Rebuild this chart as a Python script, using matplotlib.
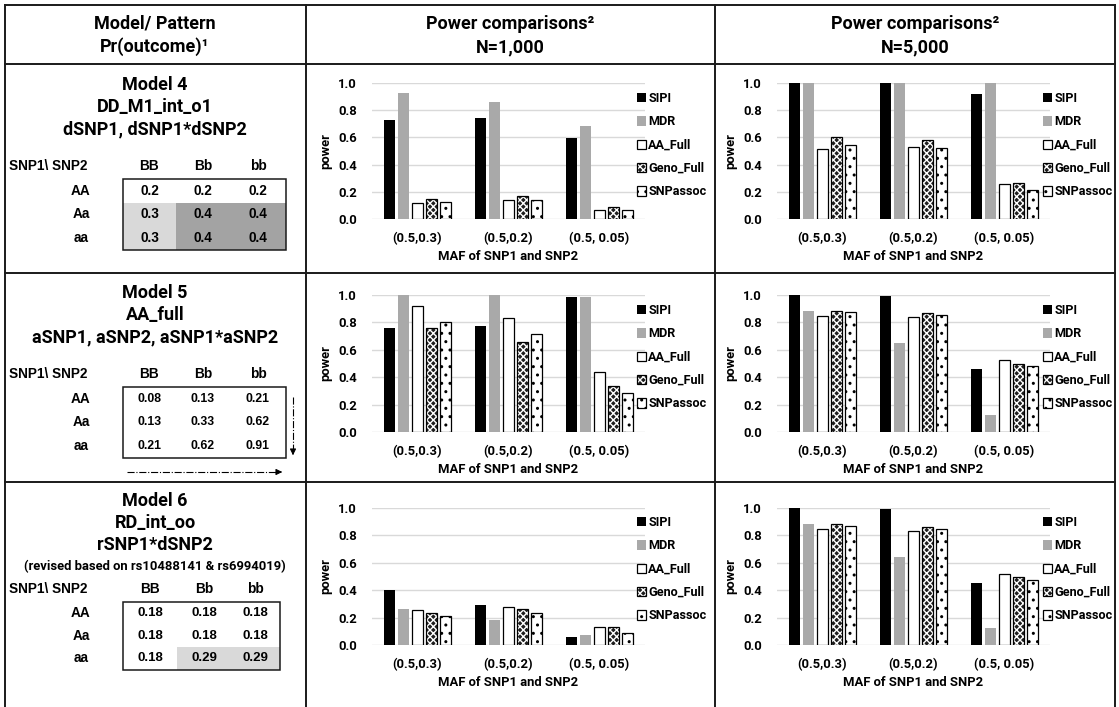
import matplotlib
matplotlib.use('Agg')
import matplotlib.pyplot as plt
from matplotlib.patches import Rectangle
from matplotlib.legend_handler import HandlerTuple

# canvas size in pixels (dpi 100)
W, H = 1119, 707

# ---- data ----
methods = ['SIPI', 'MDR', 'AA_Full', 'Geno_Full', 'SNPassoc']
categories = ['(0.5,0.3)', '(0.5,0.2)', '(0.5, 0.05)']

# power per method (rows) and MAF setting (columns)
m4_n1000 = [[0.725, 0.745, 0.595],
            [0.930, 0.862, 0.686],
            [0.118, 0.140, 0.066],
            [0.147, 0.168, 0.085],
            [0.127, 0.143, 0.066]]
m4_n5000 = [[1.000, 1.000, 0.922],
            [1.000, 1.000, 1.000],
            [0.515, 0.529, 0.260],
            [0.600, 0.583, 0.265],
            [0.547, 0.525, 0.216]]
m5_n1000 = [[0.761, 0.776, 0.988],
            [1.000, 1.000, 0.983],
            [0.920, 0.832, 0.441],
            [0.756, 0.659, 0.334],
            [0.805, 0.715, 0.288]]
m5_n5000 = [[1.000, 0.993, 0.459],
            [0.885, 0.649, 0.127],
            [0.846, 0.837, 0.524],
            [0.885, 0.866, 0.500],
            [0.873, 0.851, 0.480]]
m6_n1000 = [[0.400, 0.290, 0.055],
            [0.265, 0.180, 0.070],
            [0.255, 0.275, 0.130],
            [0.230, 0.260, 0.130],
            [0.210, 0.235, 0.085]]
m6_n5000 = [[1.000, 0.990, 0.455],
            [0.885, 0.645, 0.125],
            [0.845, 0.835, 0.520],
            [0.880, 0.862, 0.500],
            [0.870, 0.848, 0.478]]

# Pr(outcome) tables
geno_cols = ['BB', 'Bb', 'bb']
geno_rows = ['AA', 'Aa', 'aa']
m4_table = [['0.2', '0.2', '0.2'], ['0.3', '0.4', '0.4'], ['0.3', '0.4', '0.4']]
m5_table = [['0.08', '0.13', '0.21'], ['0.13', '0.33', '0.62'], ['0.21', '0.62', '0.91']]
m6_table = [['0.18', '0.18', '0.18'], ['0.18', '0.18', '0.18'], ['0.18', '0.29', '0.29']]

m4_title = ['Model 4', 'DD_M1_int_o1', 'dSNP1, dSNP1*dSNP2']
m5_title = ['Model 5', 'AA_full', 'aSNP1, aSNP2, aSNP1*aSNP2']
m6_title = ['Model 6', 'RD_int_oo', 'rSNP1*dSNP2']
m6_note = '(revised based on rs10488141 & rs6994019)'

# ---- styles ----
plt.rcParams['hatch.linewidth'] = 1.0
LIGHT, DARK = '#d9d9d9', '#a3a3a3'
FAM = 'Roboto'
bar_styles = [dict(color='black'),
              dict(color='#a9a9a9'),
              dict(facecolor='white', edgecolor='black', linewidth=0.9),
              dict(facecolor='#1e1e1e', edgecolor='white', linewidth=0, hatch='xxxxx'),
              dict(facecolor='white', edgecolor='black', linewidth=0.9, hatch='..')]
cfont = dict(family=FAM, weight='bold', size=9.4)
hfont = dict(family=FAM, weight='bold', size=13)
tfont = dict(family='Liberation Sans', weight='bold')

fig = plt.figure(figsize=(W / 100, H / 100), dpi=100)
bg = fig.add_axes([0, 0, 1, 1])
bg.set_xlim(0, W)
bg.set_ylim(H, 0)
bg.axis('off')


def rect(x0, y0, x1, y1):
    return [x0 / W, 1 - y1 / H, (x1 - x0) / W, (y1 - y0) / H]


# outer grid of the table
for x in [5, 306, 715, 1115]:
    bg.plot([x, x], [5, H], color='#1a1a1a', lw=1.4)
for y in [5, 64, 273, 482]:
    bg.plot([5, 1115], [y, y], color='#1a1a1a', lw=1.4)

# header row
bg.text(155, 24, 'Model/ Pattern', ha='center', va='center', **hfont)
bg.text(155, 47, 'Pr(outcome)¹', ha='center', va='center', **hfont)
for cx, n in [(510, 'N=1,000'), (915, 'N=5,000')]:
    bg.text(cx, 24, 'Power comparisons²', ha='center', va='center', **hfont)
    bg.text(cx, 47, n, ha='center', va='center', **hfont)


def draw_table(title_y, title, top, rh, vals, shades, edges, vsize, note=None):
    for y, t in zip(title_y, title):
        bg.text(155, y, t, ha='center', va='center', **hfont)
    if note:
        bg.text(155, title_y[-1] + 22, note, ha='center', va='center',
                family=FAM, weight='bold', size=9.4)
    bg.text(48, top - 13, 'SNP1\\ SNP2', ha='center', va='center', size=9.8, **tfont)
    for j, c in enumerate(geno_cols):
        cx = (edges[j] + edges[j + 1]) / 2
        bg.text(cx, top - 13, c, ha='center', va='center', size=9.8, **tfont)
    for i, r in enumerate(geno_rows):
        cy = top + rh * i + rh / 2
        bg.text(81, cy, r, ha='center', va='center', size=9.8, **tfont)
        for j in range(3):
            if shades[i][j]:
                bg.add_patch(Rectangle((edges[j], top + rh * i), edges[j + 1] - edges[j], rh,
                                       facecolor=shades[i][j], edgecolor='none'))
            cx = (edges[j] + edges[j + 1]) / 2
            bg.text(cx, cy, vals[i][j], ha='center', va='center', size=vsize, **tfont)
    bg.add_patch(Rectangle((edges[0], top), edges[-1] - edges[0], rh * 3,
                           facecolor='none', edgecolor='#1a1a1a', lw=1.1))


draw_table([85, 107, 129], m4_title, 179, 23.5, m4_table,
           [[None] * 3, [LIGHT, DARK, DARK], [LIGHT, DARK, DARK]],
           [123, 176, 230, 286], 9.8)
draw_table([293, 315, 337], m5_title, 387, 23.5, m5_table,
           [[None] * 3] * 3, [123, 176, 230, 286], 8.8)
draw_table([501, 523, 545], m6_title, 602, 22.5, m6_table,
           [[None] * 3, [None] * 3, [None, LIGHT, LIGHT]],
           [123, 177, 231, 280], 9.5, note=m6_note)

# dash-dot arrows next to the Model 5 table
bg.plot([293, 293], [397, 452], color='black', lw=0.8, ls='-.')
bg.annotate('', xy=(293, 458), xytext=(293, 450),
            arrowprops=dict(arrowstyle='-|>', color='black', lw=0.8, mutation_scale=9))
bg.plot([127, 278], [472, 472], color='black', lw=0.8, ls='-.')
bg.annotate('', xy=(285, 472), xytext=(277, 472),
            arrowprops=dict(arrowstyle='-|>', color='black', lw=0.8, mutation_scale=9))


def draw_chart(data, x0, x1, ytop, ybot, leg_x, leg_y):
    ax = fig.add_axes(rect(x0, ytop, x1, ybot))
    ax.set_facecolor('none')
    pos = list(range(len(categories)))
    handles = []
    for k, m in enumerate(methods):
        xs = [p + (k - 2) * 0.155 for p in pos]
        b = ax.bar(xs, data[k], width=0.12, label=m, **bar_styles[k])
        if k == 3:
            # black outline around the patterned bars
            o = ax.bar(xs, data[k], width=0.12, facecolor='none', edgecolor='black', linewidth=0.9)
            handles.append((b, o))
        else:
            handles.append(b)
    ax.set_xlim(-0.5, 2.5)
    ax.set_ylim(0, 1)
    ax.set_yticks([0, 0.2, 0.4, 0.6, 0.8, 1.0])
    ax.set_yticklabels(['%.1f' % v for v in [0, 0.2, 0.4, 0.6, 0.8, 1.0]], **cfont)
    ax.set_xticks(pos)
    ax.set_xticklabels(categories, **cfont)
    ax.tick_params(axis='y', length=0, pad=11)
    ax.tick_params(axis='x', length=0, pad=9)
    ax.yaxis.grid(True, color='#d9d9d9', lw=1)
    ax.set_axisbelow(True)
    for s in ax.spines.values():
        s.set_visible(False)
    ax.set_ylabel('power', **cfont)
    ax.yaxis.set_label_coords(-0.145, 0.5)
    ax.set_xlabel('MAF of SNP1 and SNP2', **cfont)
    ax.xaxis.set_label_coords(0.5, -0.225)
    ax.legend(handles=handles, labels=methods, loc='upper left',
              bbox_to_anchor=(leg_x / W, 1 - leg_y / H),
              bbox_transform=fig.transFigure, frameon=False, borderpad=0, borderaxespad=0,
              handlelength=0.7, handleheight=0.75, handletextpad=0.2, labelspacing=0.82,
              handler_map={tuple: HandlerTuple(ndivide=1, pad=0)},
              prop=dict(family=FAM, weight='bold', size=9.1))
    return ax


draw_chart(m4_n1000, 372, 645, 83, 219, 637, 92)
draw_chart(m4_n5000, 777, 1050, 83, 219, 1043, 92)
draw_chart(m5_n1000, 372, 645, 295, 432, 637, 304)
draw_chart(m5_n5000, 777, 1050, 295, 432, 1043, 304)
draw_chart(m6_n1000, 372, 645, 508, 645, 637, 516)
draw_chart(m6_n5000, 777, 1050, 508, 645, 1043, 516)

fig.savefig('out.png', dpi=100)
